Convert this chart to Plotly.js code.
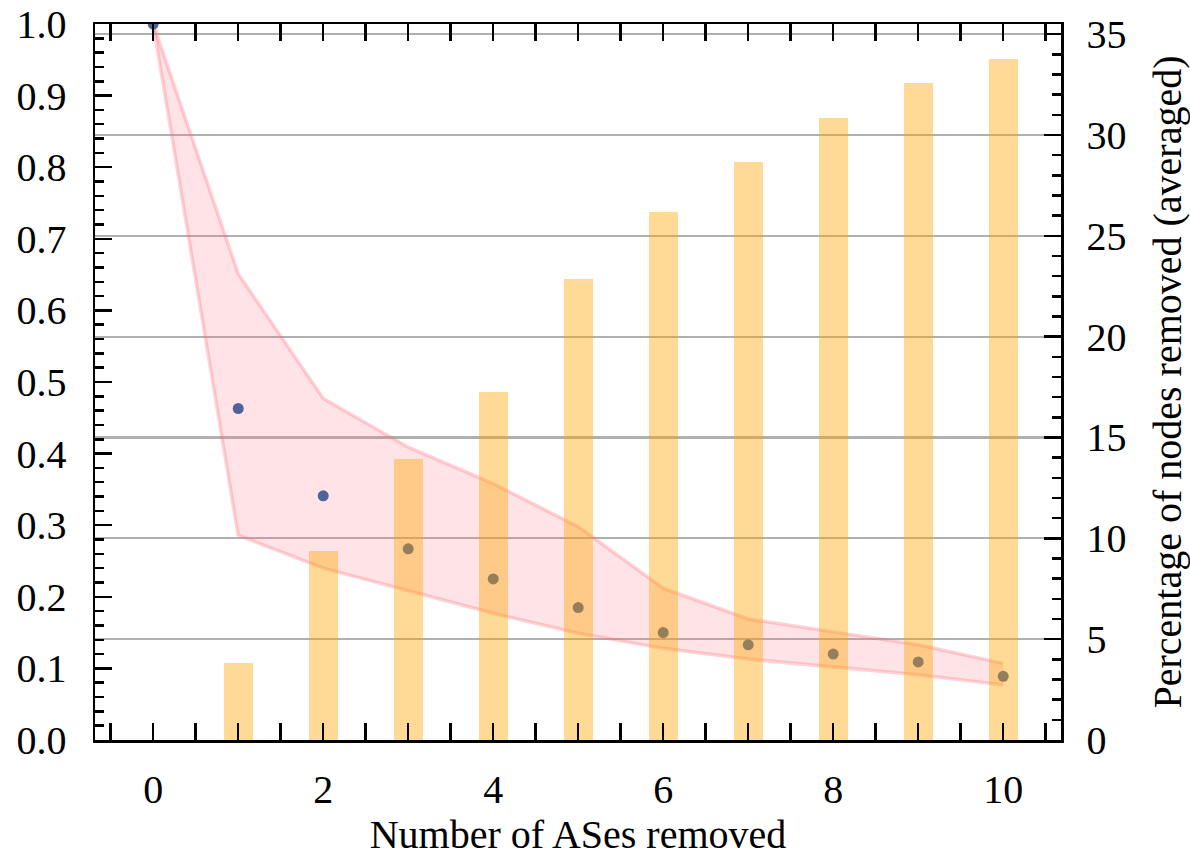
<!DOCTYPE html>
<html>
<head>
<meta charset="utf-8">
<script src="https://cdn.plot.ly/plotly-3.0.1.min.js"></script>
<style>html,body{margin:0;padding:0;background:#fff;}#chart{width:1190px;height:857px;}</style>
</head>
<body>
<div id="chart"></div>
<script>
// Data
const asesRemoved = [0, 1, 2, 3, 4, 5, 6, 7, 8, 9, 10];
const meanValue   = [1.0, 0.463, 0.341, 0.267, 0.225, 0.185, 0.150, 0.133, 0.120, 0.109, 0.089];
const bandUpper   = [1.0, 0.651, 0.477, 0.409, 0.358, 0.298, 0.212, 0.169, 0.151, 0.133, 0.107];
const bandLower   = [1.0, 0.286, 0.240, 0.208, 0.177, 0.149, 0.128, 0.113, 0.102, 0.091, 0.077];
const barX        = [1, 2, 3, 4, 5, 6, 7, 8, 9, 10];
const pctRemoved  = [3.83, 9.37, 13.93, 17.25, 22.86, 26.2, 28.67, 30.84, 32.59, 33.75];

const serif = '"Liberation Serif", serif';
const tickFont = {family: serif, size: 40, color: "#000"};

const traces = [
  {x: asesRemoved, y: bandLower, type: "scatter", mode: "lines",
   line: {color: "rgba(255,105,120,0.3)", width: 3.5}, hoverinfo: "skip", showlegend: false},
  {x: asesRemoved, y: bandUpper, type: "scatter", mode: "lines", fill: "tonexty",
   fillcolor: "rgba(255,105,120,0.19)",
   line: {color: "rgba(255,105,120,0.3)", width: 3.5}, hoverinfo: "skip", showlegend: false},
  {x: asesRemoved, y: meanValue, type: "scatter", mode: "markers",
   marker: {color: "#4E6399", size: 11}, showlegend: false},
  {x: barX, y: pctRemoved, type: "bar", yaxis: "y2", width: 0.345,
   marker: {color: "rgba(255,165,0,0.41)", line: {width: 0}}, showlegend: false}
];

const layout = {
  width: 1190, height: 857,
  margin: {l: 95, r: 129, t: 24, b: 117},
  paper_bgcolor: "#fff", plot_bgcolor: "#fff",
  showlegend: false,
  bargap: 0,
  xaxis: {
    range: [-0.685, 10.68], tickmode: "linear", tick0: 0, dtick: 2,
    ticks: "inside", ticklen: 17, tickwidth: 2.5, tickcolor: "#000",
    minor: {dtick: 0.5, ticks: "inside", ticklen: 8, tickwidth: 2.5, tickcolor: "#000"},
    showline: true, linecolor: "#000", linewidth: 2.5, mirror: "allticks",
    showgrid: false, zeroline: false,
    tickfont: tickFont, ticklabelstandoff: 12,
    title: {text: "Number of ASes removed", font: {family: serif, size: 40, color: "#000"}, standoff: 24}
  },
  yaxis: {
    range: [0, 1.0], tickmode: "linear", tick0: 0, dtick: 0.1, tickformat: ".1f",
    ticks: "inside", ticklen: 17, tickwidth: 2.5, tickcolor: "#000",
    minor: {dtick: 0.02, ticks: "inside", ticklen: 9, tickwidth: 2.5, tickcolor: "#000"},
    showline: true, linecolor: "#000", linewidth: 2.5,
    showgrid: false, zeroline: false,
    tickfont: tickFont, ticklabelstandoff: 18
  },
  yaxis2: {
    overlaying: "y", side: "right",
    range: [0, 35.5], tickmode: "linear", tick0: 0, dtick: 5,
    ticks: "inside", ticklen: 17, tickwidth: 2.5, tickcolor: "#000",
    minor: {dtick: 1, ticks: "inside", ticklen: 9, tickwidth: 2.5, tickcolor: "#000", showgrid: false},
    showline: true, linecolor: "#000", linewidth: 2.5,
    showgrid: true, gridcolor: "#b0b0b0", gridwidth: 2.2, zeroline: false,
    tickfont: tickFont, ticklabelstandoff: 15,
    title: {text: "Percentage of nodes removed (averaged)", font: {family: serif, size: 40, color: "#000"}, standoff: 32}
  }
};

Plotly.newPlot("chart", traces, layout, {displayModeBar: false, staticPlot: true});
</script>
</body>
</html>
